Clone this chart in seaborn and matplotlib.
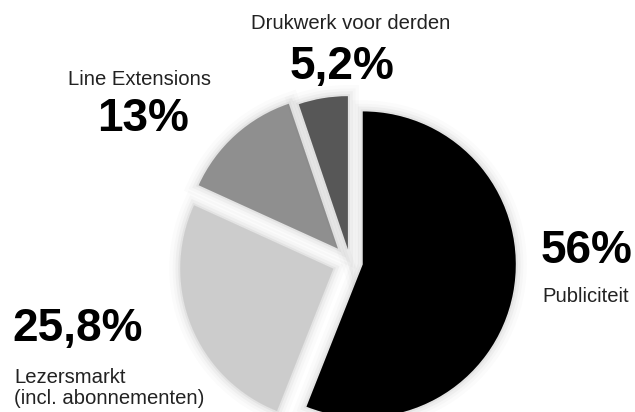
import matplotlib
matplotlib.use("Agg")
import matplotlib.pyplot as plt
import matplotlib.patheffects as pe
import seaborn as sns

# Data
labels = ["Publiciteit", "Lezersmarkt\n(incl. abonnementen)", "Line Extensions", "Drukwerk voor derden"]
values = [56.0, 25.8, 13.0, 5.2]
pct_labels = ["56%", "25,8%", "13%", "5,2%"]
colors = ["#000000", "#cccccc", "#8f8f8f", "#575757"]

sns.set_theme(style="white")
plt.rcParams['font.family'] = ['Liberation Sans', 'DejaVu Sans']

W, H = 635, 412
fig = plt.figure(figsize=(W / 100, H / 100), dpi=100)
ax = fig.add_axes([0, 0, 1, 1])

# offsets in data units (pixels)
explode = [13, 18, 18, 13]
wedges, _ = ax.pie(values, colors=colors, explode=explode, startangle=90,
                   counterclock=False, center=(350, H - 262), radius=153,
                   frame=False)
glow = [pe.Stroke(linewidth=w, foreground="black", alpha=a)
        for w, a in [(16, 0.015), (11, 0.02), (7, 0.03), (3, 0.045)]] + [pe.Normal()]
for w in wedges:
    w.set_linewidth(0)
    w.set_path_effects(glow)

ax.set_xlim(0, W)
ax.set_ylim(0, H)
ax.set_aspect("equal")
ax.axis("off")

big = dict(fontsize=33, fontweight="bold", color="black", va="center")
small = dict(fontsize=14.6, color="#222222", va="center")

# Publiciteit
ax.text(541, H - 251, pct_labels[0], ha="left", **big)
ax.text(542, H - 297, labels[0], ha="left", **small)
# Lezersmarkt
ax.text(12, H - 329, pct_labels[1], ha="left", **big)
ax.text(14, H - 388, labels[1], ha="left", linespacing=1.15, **small)
# Line Extensions
ax.text(139, H - 79, labels[2], ha="center", **small)
ax.text(143, H - 119, pct_labels[2], ha="center", **big)
# Drukwerk
ax.text(351, H - 23, labels[3], ha="center", **small)
ax.text(342, H - 67, pct_labels[3], ha="center", **big)

fig.savefig("out.png", dpi=100)
